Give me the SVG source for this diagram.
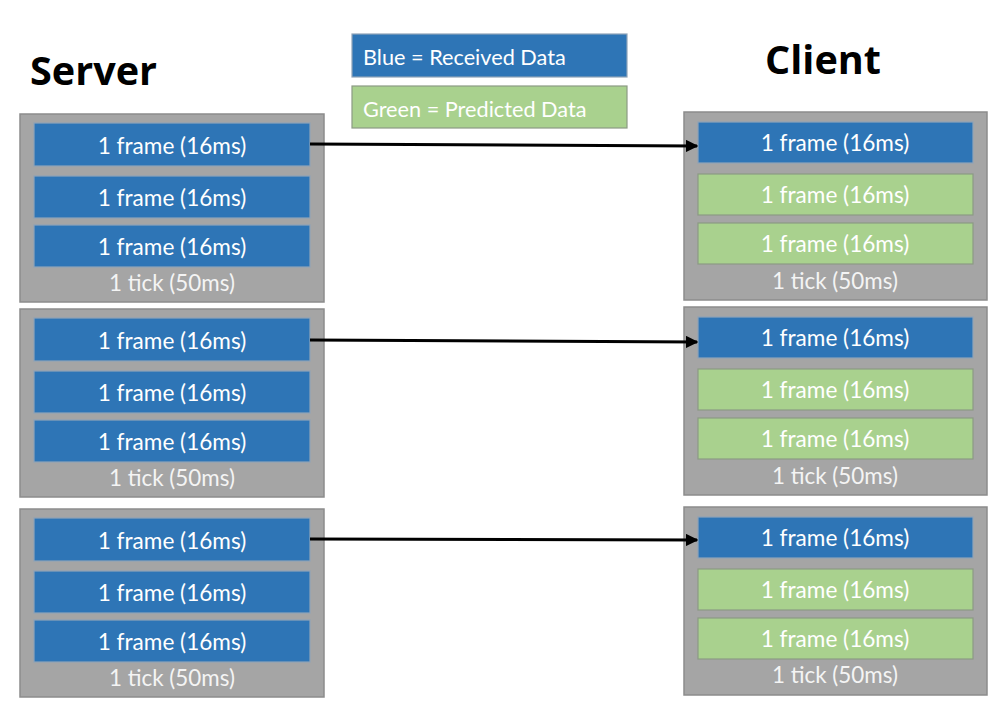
<svg xmlns="http://www.w3.org/2000/svg" width="996" height="706" viewBox="0 0 996 706">
<style>
.tick{fill:#A5A5A5;stroke:#8C8C8C;stroke-width:1.5}
.blue{fill:#2E75B6;stroke:#8FA3B8;stroke-width:1.2}
.green{fill:#A9D18E;stroke:#8C9A84;stroke-width:1.2}
.t{font-family:Lato,"Liberation Sans",sans-serif;font-size:22.6px;fill:#FFFFFF;text-anchor:middle;dominant-baseline:central}
.tt{font-family:Lato,"Liberation Sans",sans-serif;font-size:22.4px;fill:#F4F4F4;text-anchor:middle;dominant-baseline:central}
.lg{font-family:Lato,"Liberation Sans",sans-serif;font-size:21.7px;fill:#FFFFFF;dominant-baseline:central}
.h{font-family:"Open Sans","Liberation Sans",sans-serif;font-weight:bold;font-size:39.6px;fill:#000}
.conn{stroke:#000;stroke-width:3;fill:none;marker-end:url(#ah)}
</style>
<defs>
<marker id="ah" viewBox="0 0 10 10" refX="9" refY="5" markerWidth="4.2" markerHeight="4.2" orient="auto" markerUnits="strokeWidth">
<path d="M0,0 L10,5 L0,10 z" fill="#000"/>
</marker>
</defs>
<rect width="996" height="706" fill="#FFFFFF"/>
<text class="h" x="30" y="85">Server</text>
<text class="h" x="823" y="74" text-anchor="middle">Client</text>
<g id="legend">
<rect class="blue" x="352" y="34" width="275" height="43"/>
<text class="lg" x="363" y="57">Blue = Received Data</text>
<rect class="green" x="352" y="86" width="275" height="42"/>
<text class="lg" x="363" y="109">Green = Predicted Data</text>
</g>
<g id="server-tick1">
<rect class="tick" x="20" y="114" width="304" height="188"/>
<rect class="blue" x="34" y="123" width="276" height="43"/><text class="t" x="172" y="145">1 frame (16ms)</text>
<rect class="blue" x="34" y="176" width="276" height="42"/><text class="t" x="172" y="197">1 frame (16ms)</text>
<rect class="blue" x="34" y="225" width="276" height="42"/><text class="t" x="172" y="246">1 frame (16ms)</text>
<text class="tt" x="172" y="282">1 tick (50ms)</text>
</g>
<g id="server-tick2">
<rect class="tick" x="20" y="309" width="304" height="188"/>
<rect class="blue" x="34" y="318" width="276" height="43"/><text class="t" x="172" y="340">1 frame (16ms)</text>
<rect class="blue" x="34" y="371" width="276" height="42"/><text class="t" x="172" y="392">1 frame (16ms)</text>
<rect class="blue" x="34" y="420" width="276" height="42"/><text class="t" x="172" y="441">1 frame (16ms)</text>
<text class="tt" x="172" y="477">1 tick (50ms)</text>
</g>
<g id="server-tick3">
<rect class="tick" x="20" y="509" width="304" height="188"/>
<rect class="blue" x="34" y="518" width="276" height="43"/><text class="t" x="172" y="540">1 frame (16ms)</text>
<rect class="blue" x="34" y="571" width="276" height="42"/><text class="t" x="172" y="592">1 frame (16ms)</text>
<rect class="blue" x="34" y="620" width="276" height="42"/><text class="t" x="172" y="641">1 frame (16ms)</text>
<text class="tt" x="172" y="677">1 tick (50ms)</text>
</g>
<g id="client-tick1">
<rect class="tick" x="684" y="112" width="303" height="188"/>
<rect class="blue" x="698" y="122" width="275" height="41"/><text class="t" x="835" y="142">1 frame (16ms)</text>
<rect class="green" x="698" y="174" width="275" height="41"/><text class="t" x="835" y="194">1 frame (16ms)</text>
<rect class="green" x="698" y="223" width="275" height="41"/><text class="t" x="835" y="243">1 frame (16ms)</text>
<text class="tt" x="835" y="280">1 tick (50ms)</text>
</g>
<g id="client-tick2">
<rect class="tick" x="684" y="307" width="303" height="188"/>
<rect class="blue" x="698" y="317" width="275" height="41"/><text class="t" x="835" y="337">1 frame (16ms)</text>
<rect class="green" x="698" y="369" width="275" height="41"/><text class="t" x="835" y="389">1 frame (16ms)</text>
<rect class="green" x="698" y="418" width="275" height="41"/><text class="t" x="835" y="438">1 frame (16ms)</text>
<text class="tt" x="835" y="475">1 tick (50ms)</text>
</g>
<g id="client-tick3">
<rect class="tick" x="684" y="507" width="303" height="188"/>
<rect class="blue" x="698" y="517" width="275" height="41"/><text class="t" x="835" y="537">1 frame (16ms)</text>
<rect class="green" x="698" y="569" width="275" height="41"/><text class="t" x="835" y="589">1 frame (16ms)</text>
<rect class="green" x="698" y="618" width="275" height="41"/><text class="t" x="835" y="638">1 frame (16ms)</text>
<text class="tt" x="835" y="674">1 tick (50ms)</text>
</g>
<g id="connectors">
<path class="conn" d="M310,144 L697,146"/>
<path class="conn" d="M310,340 L697,342"/>
<path class="conn" d="M310,539 L697,540"/>
</g>
</svg>
